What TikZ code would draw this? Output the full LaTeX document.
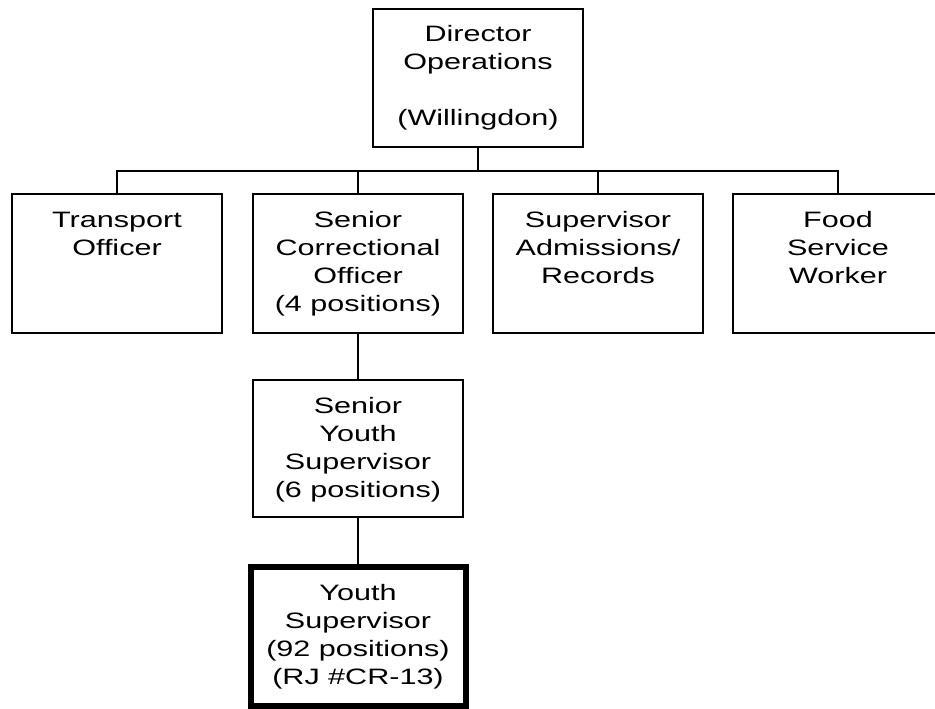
\documentclass[tikz,border=0pt]{standalone}
\usepackage{fontspec}
\usetikzlibrary{calc}
\setmainfont[FakeStretch=1.37]{Liberation Sans}
\newcommand\boxtext[3]{\parbox[c][#2][t]{#1}{\centering\rule{0pt}{33pt}#3\par}}
\begin{document}
\begin{tikzpicture}[x=1pt,y=-1pt,
  every node/.style={font=\fontsize{22.3}{28}\selectfont},
  orgbox/.style={draw=black, line width=1.5pt, inner sep=0pt, outer sep=0pt, anchor=north west},
  mainbox/.style={orgbox, line width=6pt},
  link/.style={draw=black, line width=1.5pt}]
\useasboundingbox (0,0) rectangle (935,709);
\node[orgbox] (dir) at (373,9) {\boxtext{210pt}{138pt}{Director\\Operations\\\mbox{}\\(Willingdon)}};
\node[orgbox] (trans) at (12,194) {\boxtext{210pt}{139pt}{Transport\\Officer}};
\node[orgbox] (sco) at (253,194) {\boxtext{210pt}{139pt}{Senior\\Correctional\\Officer\\(4 positions)}};
\node[orgbox] (sar) at (493,194) {\boxtext{210pt}{139pt}{Supervisor\\Admissions/\\Records}};
\node[orgbox] (food) at (733,194) {\boxtext{210pt}{139pt}{Food\\Service\\Worker}};
\node[orgbox] (sys) at (253,380) {\boxtext{210pt}{137pt}{Senior\\Youth\\Supervisor\\(6 positions)}};
\node[mainbox] (ys) at (250.5,567) {\boxtext{215pt}{139pt}{Youth\\Supervisor\\(92 positions)\\(RJ \#CR-13)}};
\coordinate (bus) at ($(dir.south)+(0,24)$);
\draw[link] (dir.south) -- (bus);
\draw[link] (bus) -| (trans.north);
\draw[link] (bus) -| (sco.north);
\draw[link] (bus) -| (sar.north);
\draw[link] (bus) -| (food.north);
\draw[link] (sco.south) -- (sys.north);
\draw[link] (sys.south) -- (ys.north);
\end{tikzpicture}
\end{document}
